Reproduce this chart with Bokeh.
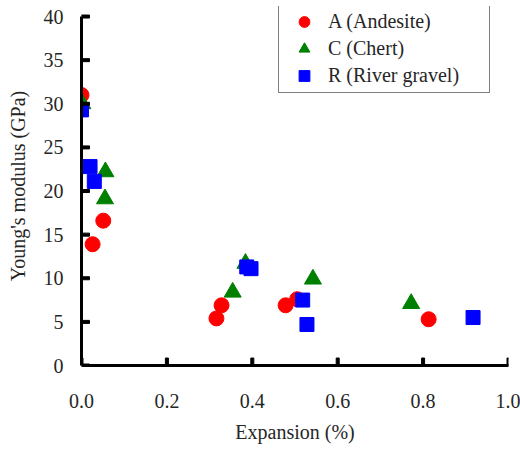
from bokeh.plotting import figure
from bokeh.models import Legend, LegendItem, FixedTicker, NumeralTickFormatter, Range1d
from bokeh.embed import file_html
from bokeh.resources import INLINE

# Data
a_x = [0.0, 0.026, 0.051, 0.316, 0.328, 0.478, 0.505, 0.813]
a_y = [31.0, 13.9, 16.6, 5.4, 6.9, 6.9, 7.6, 5.3]
c_x = [0.002, 0.056, 0.055, 0.354, 0.384, 0.542, 0.772]
c_y = [30.0, 22.2, 19.1, 8.4, 11.7, 9.9, 7.1]
r_x = [0.0, 0.020, 0.030, 0.387, 0.397, 0.518, 0.528, 0.917]
r_y = [29.3, 22.8, 21.1, 11.3, 11.1, 7.5, 4.7, 5.5]

labels = ["A (Andesite)", "C (Chert)", "R (River gravel)"]
x_ticks = [0.0, 0.2, 0.4, 0.6, 0.8, 1.0]
y_ticks = [0, 5, 10, 15, 20, 25, 30, 35, 40]

FONT = "'Liberation Serif'"
TXT = "#262626"

# frame top placed 10px above the y=40 tick so the legend box fits inside
p = figure(width=520, height=450, output_backend="svg", toolbar_location=None,
           x_range=Range1d(0, 1.0), y_range=Range1d(0, 41.15),
           min_border_left=81, min_border_right=12, min_border_top=6, min_border_bottom=85)
p.outline_line_color = None
p.grid.visible = False

ra = p.scatter(a_x, a_y, marker="circle", size=15, fill_color="#ff0000", line_color="#ff0000")
rc = p.scatter(c_x, c_y, marker="triangle", size=17, fill_color="#008000", line_color="#008000")
rr = p.scatter(r_x, r_y, marker="square", size=14, fill_color="#0000ff", line_color="#0000ff")

# inward tick marks (clipped to the plot frame, so only the inner half shows)
p.rect(x=x_ticks, y=[0] * len(x_ticks), width=3, height=15,
       width_units="screen", height_units="screen", color="black")
p.rect(x=[0] * len(y_ticks), y=y_ticks, width=16, height=3,
       width_units="screen", height_units="screen", color="black")

for ax in (p.xaxis[0], p.yaxis[0]):
    ax.axis_line_width = 3
    ax.axis_line_color = "black"
    ax.major_tick_in = 0
    ax.major_tick_out = 0
    ax.minor_tick_in = 0
    ax.minor_tick_out = 0
    ax.major_tick_line_color = None
    ax.minor_tick_line_color = None
    ax.major_label_text_font = FONT
    ax.major_label_text_font_size = "20px"
    ax.major_label_text_color = TXT
    ax.axis_label_text_font = FONT
    ax.axis_label_text_font_size = "20px"
    ax.axis_label_text_font_style = "normal"
    ax.axis_label_text_color = TXT

p.xaxis.ticker = FixedTicker(ticks=x_ticks)
p.xaxis.formatter = NumeralTickFormatter(format="0.0")
p.xaxis.major_label_standoff = 28
p.xaxis.axis_label = "Expansion (%)"
p.xaxis.axis_label_standoff = 10
p.yaxis.ticker = FixedTicker(ticks=y_ticks)
p.yaxis.bounds = (0, 40)
p.yaxis.major_label_standoff = 18
p.yaxis.axis_label = "Young's modulus (GPa)"
p.yaxis.axis_label_standoff = 12

legend = Legend(items=[LegendItem(label=labels[0], renderers=[ra]),
                       LegendItem(label=labels[1], renderers=[rc]),
                       LegendItem(label=labels[2], renderers=[rr])],
                location=(197, 272))
legend.border_line_color = "black"
legend.border_line_width = 1.5
legend.background_fill_alpha = 1
legend.label_text_font = FONT
legend.label_text_font_size = "20px"
legend.label_text_color = TXT
legend.padding = 3
legend.spacing = 0
legend.margin = 0
legend.glyph_width = 44
legend.glyph_height = 27
legend.label_height = 27
legend.label_width = 158
legend.label_standoff = 2
p.add_layout(legend, "center")

open("out.html", "w").write(file_html(p, INLINE))
